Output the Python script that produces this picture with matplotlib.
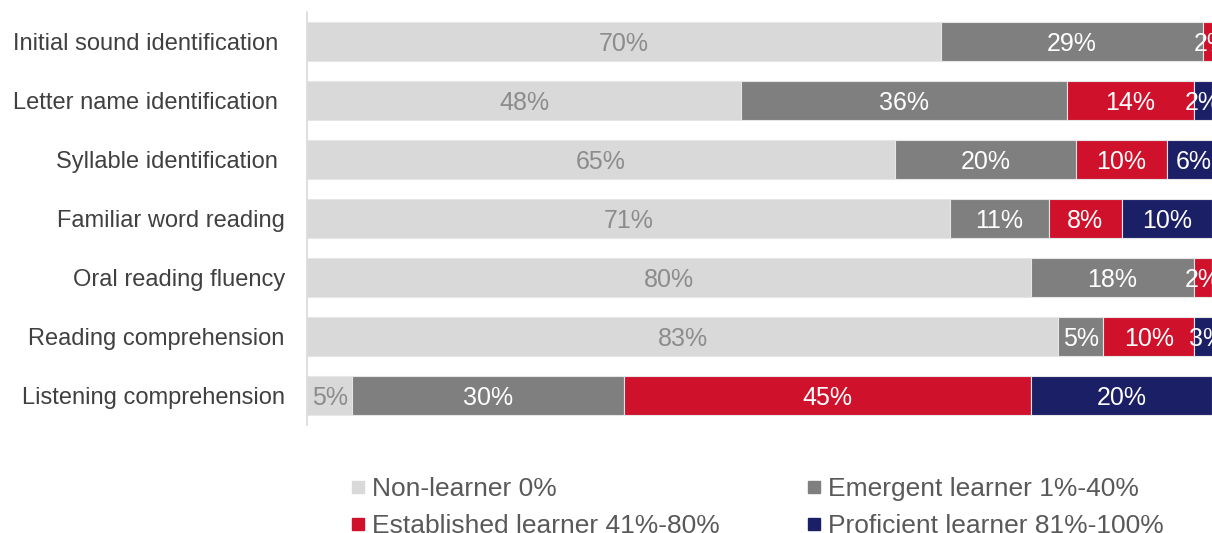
import matplotlib
matplotlib.use('Agg')
import numpy as np
import matplotlib.pyplot as plt
from matplotlib.lines import Line2D

plt.rcParams['font.family'] = ['Liberation Sans', 'DejaVu Sans']

# data, top to bottom
tasks = ["Initial sound identification ", "Letter name identification ",
         "Syllable identification ", "Familiar word reading",
         "Oral reading fluency", "Reading comprehension",
         "Listening comprehension"]
non_learner = [70, 48, 65, 71, 80, 83, 5]
emergent = [29, 36, 20, 11, 18, 5, 30]
established = [2, 14, 10, 8, 2, 10, 45]
proficient = [0, 2, 6, 10, 0, 3, 20]

series = [non_learner, emergent, established, proficient]
names = ["Non-learner 0%", "Emergent learner 1%-40%",
         "Established learner 41%-80%", "Proficient learner 81%-100%"]
colors = ["#d9d9d9", "#7f7f7f", "#d0112b", "#1b1f66"]
text_colors = ["#8c8c8c", "white", "white", "white"]

fig = plt.figure(figsize=(12.12, 5.33), dpi=100)
ax = fig.add_axes([307/1212, 1-425/533, 1-307/1212, 413/533])

y = np.arange(len(tasks))
left = np.zeros(len(tasks))
for vals, col, tc in zip(series, colors, text_colors):
    vals = np.array(vals, dtype=float)
    ax.barh(y, vals, left=left, height=0.66, color=col,
            edgecolor="#e6e6e6", linewidth=0.8)
    for yi, (l, v) in enumerate(zip(left, vals)):
        if v > 0:
            ax.text(l + v/2, yi, "%d%%" % v, ha="center", va="center_baseline",
                    color=tc, fontsize=18, clip_on=True)
    left += vals

ax.set_xlim(0, 100)
ax.set_ylim(len(tasks) - 0.5, -0.5)
ax.set_yticks(y)
ax.set_yticklabels(tasks, fontsize=17, color="#404040")
ax.tick_params(axis="y", length=0, pad=16)
ax.set_xticks([])
for s in ["top", "right", "bottom"]:
    ax.spines[s].set_visible(False)
ax.spines["left"].set_color("#d9d9d9")
ax.spines["left"].set_linewidth(1.2)

# legend fills column-wise, so order to read row-wise like the original
order = [0, 2, 1, 3]
handles = [Line2D([], [], marker="s", linestyle="none", markersize=9,
                  markerfacecolor=colors[i], markeredgecolor=colors[i]) for i in order]
fig.legend(handles, [names[i] for i in order], ncol=2, loc="center",
           bbox_to_anchor=(0.623, 0.048), frameon=False, fontsize=19,
           handletextpad=0.1, columnspacing=3.1, labelspacing=0.5,
           labelcolor="#595959", handlelength=0.9, borderpad=0,
           bbox_transform=fig.transFigure)

plt.savefig("out.png", dpi=100)
